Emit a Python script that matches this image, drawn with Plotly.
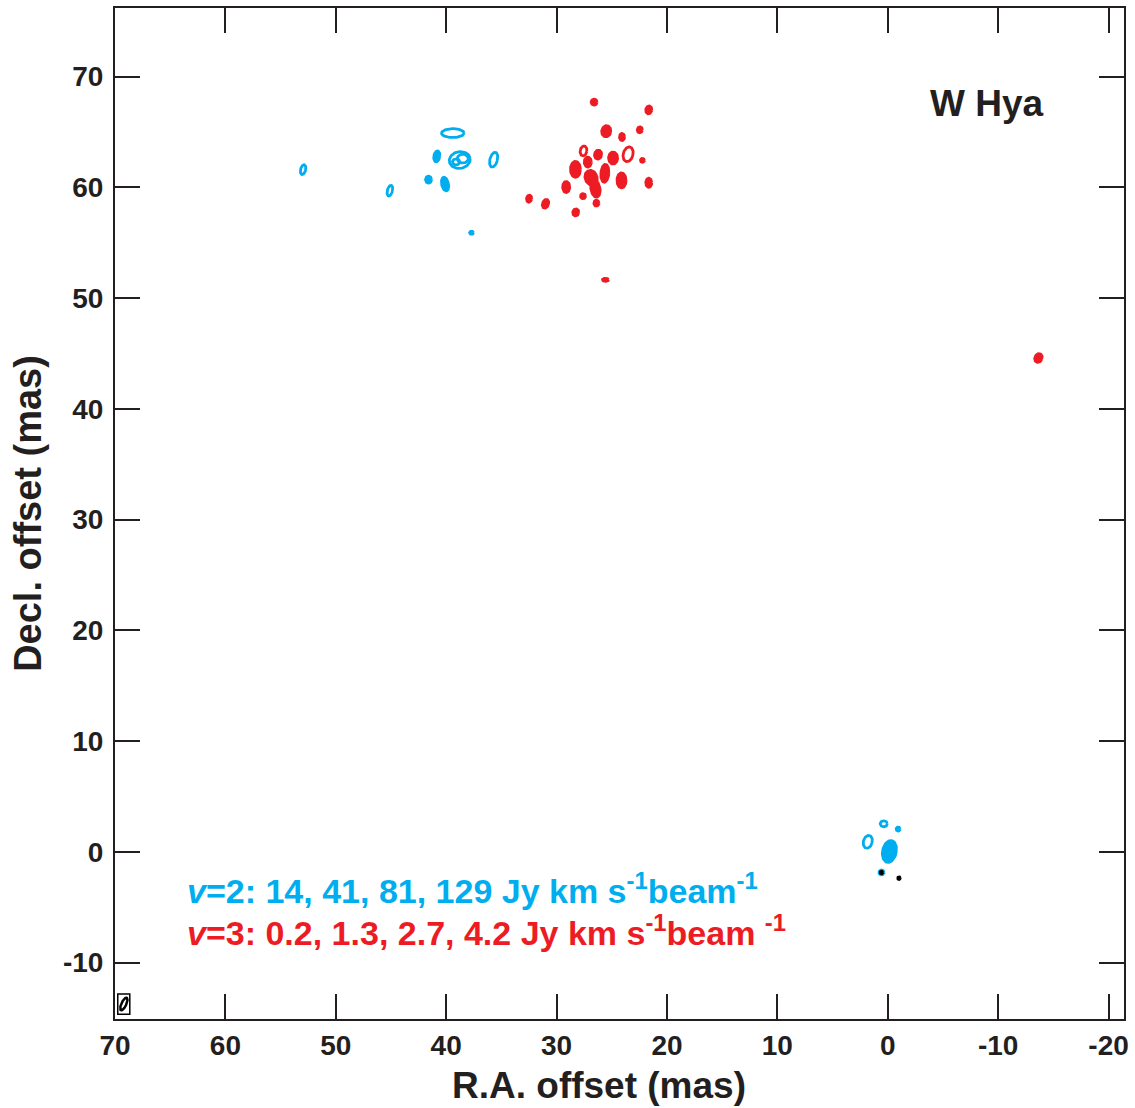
import numpy as np
import plotly.graph_objects as go

# ---- data (mas) ----
# v=2 (blue) components: centre RA, Dec, semi-axes, tilt (deg, top leaning right), filled?
blue_ra   = [52.96, 45.10, 39.40, 40.85, 38.77, 38.50, 39.10, 35.70, 41.60, 40.10, 37.70, 1.81, 0.36, -0.94, -0.15, 0.57]
blue_dec  = [61.60, 59.70, 64.90, 62.80, 62.47, 62.60, 62.30, 62.50, 60.70, 60.30, 55.90, 0.90, 2.53, 2.05, 0.03, -1.87]
blue_a    = [0.23, 0.23, 1.02, 0.27, 0.95, 0.50, 0.33, 0.34, 0.27, 0.31, 0.18, 0.40, 0.32, 0.18, 0.62, 0.23]
blue_b    = [0.45, 0.50, 0.40, 0.50, 0.76, 0.40, 0.28, 0.68, 0.32, 0.63, 0.14, 0.59, 0.27, 0.18, 1.00, 0.23]
blue_tilt = [15, 15, 0, 10, -10, 0, 0, 15, 0, -12, 0, 15, 0, 0, 12, 0]
blue_fill = [False, False, False, True, False, False, False, False, True, True, True, False, False, True, True, True]

# v=3 (red) components
red_ra   = [26.60, 21.65, 25.50, 22.46, 24.07, 27.56, 26.24, 24.88, 23.52, 22.22, 27.17, 28.29, 26.87, 25.63, 26.48, 24.12, 21.65, 29.13, 27.60, 26.39, 32.49, 31.00, 28.26, 25.57, -13.65]
red_dec  = [67.70, 67.00, 65.07, 65.20, 64.55, 63.29, 62.96, 62.65, 62.99, 62.44, 62.29, 61.63, 60.87, 61.27, 59.88, 60.63, 60.42, 60.03, 59.21, 58.58, 58.98, 58.52, 57.74, 51.65, 44.59]
red_a    = [0.27, 0.27, 0.41, 0.23, 0.23, 0.30, 0.32, 0.41, 0.44, 0.18, 0.32, 0.45, 0.54, 0.36, 0.41, 0.41, 0.27, 0.32, 0.23, 0.23, 0.23, 0.27, 0.27, 0.27, 0.32]
red_b    = [0.27, 0.36, 0.50, 0.27, 0.32, 0.45, 0.41, 0.54, 0.68, 0.18, 0.45, 0.72, 0.68, 0.81, 0.77, 0.68, 0.41, 0.50, 0.23, 0.27, 0.32, 0.41, 0.32, 0.14, 0.41]
red_tilt = [0, 10, 10, 10, 0, 10, 10, 0, 15, 0, 0, 0, -20, 5, -10, 0, 0, 0, 0, 0, 10, 20, 10, 0, 25]
red_fill = [True, True, True, True, True, False, True, True, False, True, True, True, True, True, True, True, True, True, True, True, True, True, True, True, True]

# black components (near origin)
black_ra  = [0.57, -1.02]
black_dec = [-1.87, -2.38]
black_r   = [0.12, 0.12]

# beam (bottom-left corner)
beam_ra, beam_dec, beam_a, beam_b, beam_tilt = 69.2, -13.75, 0.22, 0.62, 25
beam_box = (69.75, 68.66, -14.66, -12.85)

x_ticks = [70, 60, 50, 40, 30, 20, 10, 0, -10, -20]
y_ticks = [-10, 0, 10, 20, 30, 40, 50, 60, 70]

BLUE = "#00AEEF"
RED = "#ED1C24"
INK = "#231F20"
FONT = "Liberation Sans, Arial, sans-serif"


def ellipse(cx, cy, a, b, tilt, n=72):
    t = np.linspace(0, 2 * np.pi, n)
    th = np.deg2rad(tilt)
    u = a * np.cos(t) * np.cos(th) + b * np.sin(t) * np.sin(th)
    v = -a * np.cos(t) * np.sin(th) + b * np.sin(t) * np.cos(th)
    # RA axis increases to the left
    return cx - u, cy + v


fig = go.Figure()


def add_set(ras, decs, aa, bb, tilts, fills, color):
    for ra, de, a, b, tl, f in zip(ras, decs, aa, bb, tilts, fills):
        xs, ys = ellipse(ra, de, a, b, tl)
        fig.add_trace(go.Scatter(
            x=xs, y=ys, mode="lines",
            line=dict(color=color, width=2.8),
            fill="toself" if f else None,
            fillcolor=color if f else None,
            hoverinfo="skip", showlegend=False))


add_set(blue_ra, blue_dec, blue_a, blue_b, blue_tilt, blue_fill, BLUE)
add_set(red_ra, red_dec, red_a, red_b, red_tilt, red_fill, RED)
add_set(black_ra, black_dec, black_r, black_r, [0, 0], [True, True], "#000000")

bx, by = ellipse(beam_ra, beam_dec, beam_a, beam_b, beam_tilt)
fig.add_trace(go.Scatter(x=bx, y=by, mode="lines", line=dict(color="#000000", width=2.5),
                         hoverinfo="skip", showlegend=False))
fig.add_shape(type="rect", xref="x", yref="y", x0=beam_box[0], x1=beam_box[1],
              y0=beam_box[2], y1=beam_box[3], line=dict(color="#000000", width=1.5))

axis_common = dict(
    showgrid=False, zeroline=False, showline=True, linecolor=INK, linewidth=2,
    mirror="ticks", ticks="inside", ticklen=25, tickwidth=1.5, tickcolor=INK,
    tickfont=dict(family=FONT, size=28, color=INK, weight="bold"),
)

fig.update_xaxes(range=[70.0, -21.4], tickvals=x_ticks, ticktext=[str(v) for v in x_ticks],
                 ticklabelstandoff=0, **axis_common)
fig.update_yaxes(range=[-15.1, 76.2], tickvals=y_ticks, ticktext=[str(v) for v in y_ticks],
                 title=dict(text="Decl. offset (mas)", font=dict(family=FONT, size=38, color=INK, weight="bold"),
                            standoff=10),
                 ticklabelstandoff=4, **axis_common)

fig.add_annotation(xref="paper", yref="paper", x=0.48, y=-0.066, xanchor="center", yanchor="middle",
                   text="<b>R.A. offset (mas)</b>", showarrow=False,
                   font=dict(family=FONT, size=37, color=INK))
fig.add_annotation(xref="paper", yref="paper", x=0.864, y=0.906, xanchor="center", yanchor="middle",
                   text="<b>W Hya</b>", showarrow=False, font=dict(family=FONT, size=37, color=INK))
fig.add_annotation(xref="paper", yref="paper", x=0.069, y=0.129, xanchor="left", yanchor="middle",
                   text="<b><i>v</i>=2: 14, 41, 81, 129 Jy km s<sup>-1</sup>beam<sup>-1</sup></b>",
                   showarrow=False, font=dict(family=FONT, size=34, color=BLUE))
fig.add_annotation(xref="paper", yref="paper", x=0.069, y=0.088, xanchor="left", yanchor="middle",
                   text="<b><i>v</i>=3: 0.2, 1.3, 2.7, 4.2 Jy km s<sup>-1</sup>beam <sup>-1</sup></b>",
                   showarrow=False, font=dict(family=FONT, size=34, color=RED))

fig.update_layout(
    width=1135, height=1108,
    margin=dict(l=115, r=6, t=7, b=89),
    plot_bgcolor="white", paper_bgcolor="white",
    showlegend=False,
)

fig.write_html("out.html")
